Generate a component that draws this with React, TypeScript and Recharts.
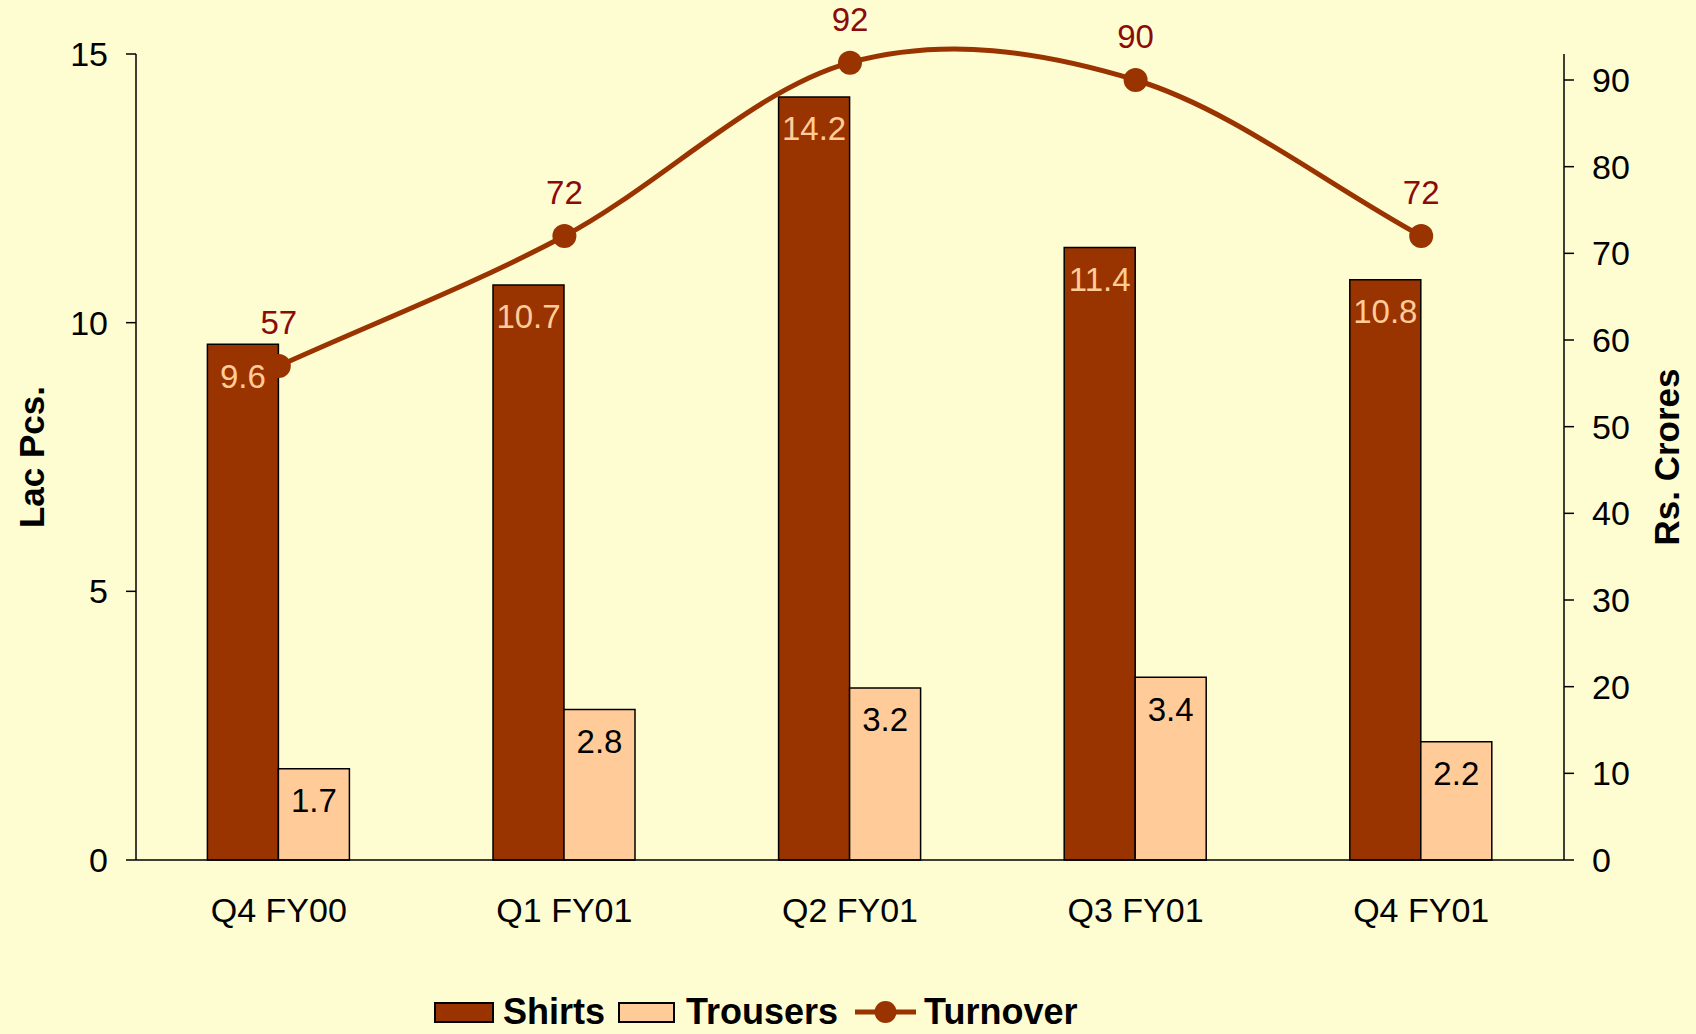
import React from 'react'
import { ComposedChart, Bar, Line, XAxis, YAxis, LabelList } from 'recharts'

// values
const quarters = ['Q4 FY00', 'Q1 FY01', 'Q2 FY01', 'Q3 FY01', 'Q4 FY01']
const shirts = [9.6, 10.7, 14.2, 11.4, 10.8]
const trousers = [1.7, 2.8, 3.2, 3.4, 2.2]
const turnover = [57, 72, 92, 90, 72]

const leftTicks = [0, 5, 10, 15]
const rightTicks = [0, 10, 20, 30, 40, 50, 60, 70, 80, 90]
const edgeTicks = [0, 1, 2, 3, 4, 5]

const BROWN = '#993300'
const PEACH = '#FFCC99'
const FONT = '"Liberation Sans", Arial, sans-serif'

// Excel style smoothed line (bezier through the points, straight-ish ends)
function excelSmooth(context: any) {
    let pts: number[][] = []
    return {
        areaStart() {},
        areaEnd() {},
        lineStart() {
            pts = []
        },
        point(x: number, y: number) {
            pts.push([+x, +y])
        },
        lineEnd() {
            const n = pts.length
            if (!n) return
            context.moveTo(pts[0][0], pts[0][1])
            for (let i = 0; i < n - 1; i++) {
                const a = pts[i]
                const b = pts[i + 1]
                const prev = pts[i - 1]
                const next = pts[i + 2]
                const c1 = prev
                    ? [a[0] + (b[0] - prev[0]) / 6, a[1] + (b[1] - prev[1]) / 6]
                    : [a[0] + (b[0] - a[0]) / 3, a[1] + (b[1] - a[1]) / 3]
                const c2 = next
                    ? [b[0] - (next[0] - a[0]) / 6, b[1] - (next[1] - a[1]) / 6]
                    : [b[0] - (b[0] - a[0]) / 3, b[1] - (b[1] - a[1]) / 3]
                context.bezierCurveTo(c1[0], c1[1], c2[0], c2[1], b[0], b[1])
            }
        },
    }
}

function LegendRow() {
    const text = {
        fontFamily: FONT,
        fontWeight: 700,
        fontSize: 36,
        color: '#000',
        lineHeight: '34px',
        whiteSpace: 'nowrap' as const,
    }
    return (
        <div style={{ position: 'absolute', left: 434, top: 995, display: 'flex', alignItems: 'center', height: 34 }}>
            <div style={{ width: 56, height: 17, background: BROWN, border: '2px solid #000', marginRight: 9 }} />
            <span style={{ ...text, marginRight: 13 }}>Shirts</span>
            <div style={{ width: 53, height: 17, background: PEACH, border: '2px solid #000', marginRight: 11 }} />
            <span style={{ ...text, marginRight: 17 }}>Trousers</span>
            <svg width={61} height={30} style={{ marginRight: 8 }}>
                <line x1={0} y1={15} x2={61} y2={15} stroke={BROWN} strokeWidth={5} />
                <circle cx={30.5} cy={15} r={11} fill={BROWN} />
            </svg>
            <span style={text}>Turnover</span>
        </div>
    )
}

export default function App() {
    const chartData = quarters.map((quarter, i) => ({
        quarter,
        Shirts: shirts[i],
        Trousers: trousers[i],
        Turnover: turnover[i],
    }))

    const tickStyle = { fontSize: 34, fill: '#000', fontFamily: FONT }
    const titleStyle = { fontSize: 35, fontWeight: 700, fill: '#000', fontFamily: FONT }

    return (
        <div style={{ position: 'absolute', left: 0, top: 0, width: 1696, height: 1034, background: '#FEFCD1', overflow: 'hidden', fontFamily: FONT }}>
            <ComposedChart
                width={1696}
                height={1034}
                data={chartData}
                margin={{ top: 54, right: 0, bottom: 0, left: 0 }}
                barCategoryGap="25%"
                barGap={0}
            >
                {/* tick marks between the categories */}
                <XAxis
                    xAxisId="edges"
                    type="number"
                    domain={[0, 5]}
                    ticks={edgeTicks}
                    allowDataOverflow
                    height={0}
                    axisLine={false}
                    tick={false}
                    tickSize={13}
                    tickLine={{ stroke: '#000', strokeWidth: 1.5 }}
                />
                <XAxis
                    xAxisId="cat"
                    dataKey="quarter"
                    height={174}
                    tickSize={0}
                    tickLine={false}
                    tickMargin={38}
                    axisLine={{ stroke: '#000', strokeWidth: 1.5 }}
                    tick={tickStyle}
                    interval={0}
                />
                <YAxis
                    yAxisId="left"
                    domain={[0, 15]}
                    ticks={leftTicks}
                    width={136}
                    tickSize={10}
                    tickMargin={18}
                    axisLine={{ stroke: '#000', strokeWidth: 1.5 }}
                    tickLine={{ stroke: '#000', strokeWidth: 1.5 }}
                    tick={tickStyle}
                    label={{ value: 'Lac Pcs.', angle: -90, position: 'center', dx: -36, style: titleStyle }}
                />
                <YAxis
                    yAxisId="right"
                    orientation="right"
                    domain={[0, 93]}
                    ticks={rightTicks}
                    width={132}
                    tickSize={10}
                    tickMargin={18}
                    axisLine={{ stroke: '#000', strokeWidth: 1.5 }}
                    tickLine={{ stroke: '#000', strokeWidth: 1.5 }}
                    tick={tickStyle}
                    label={{ value: 'Rs. Crores', angle: -90, position: 'center', dx: 37, style: titleStyle }}
                />
                <Bar xAxisId="cat" yAxisId="left" dataKey="Shirts" fill={BROWN} stroke="#000" strokeWidth={1.5} isAnimationActive={false}>
                    <LabelList dataKey="Shirts" position="insideTop" offset={20} fill={PEACH} fontSize={33} fontFamily={FONT} />
                </Bar>
                <Bar xAxisId="cat" yAxisId="left" dataKey="Trousers" fill={PEACH} stroke="#000" strokeWidth={1.5} isAnimationActive={false}>
                    <LabelList dataKey="Trousers" position="insideTop" offset={20} fill="#000" fontSize={33} fontFamily={FONT} />
                </Bar>
                <Line
                    xAxisId="cat"
                    yAxisId="right"
                    type={excelSmooth as any}
                    dataKey="Turnover"
                    stroke={BROWN}
                    strokeWidth={5}
                    dot={{ r: 12, fill: BROWN, stroke: 'none' }}
                    activeDot={false}
                    isAnimationActive={false}
                >
                    <LabelList dataKey="Turnover" position="top" offset={32} fill="#8B0A0A" fontSize={33} fontFamily={FONT} />
                </Line>
            </ComposedChart>
            <LegendRow />
        </div>
    )
}
